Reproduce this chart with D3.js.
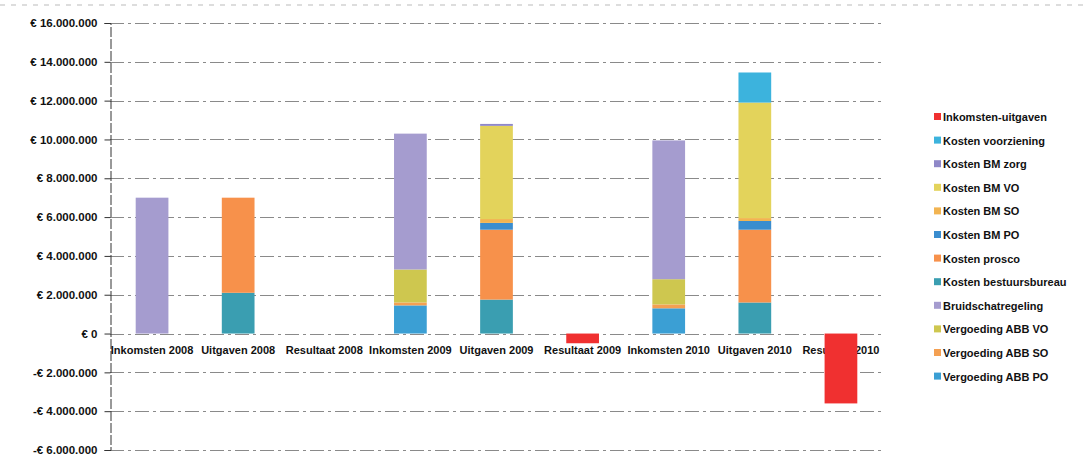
<!DOCTYPE html>
<html>
<head>
<meta charset="utf-8">
<script src="https://cdn.jsdelivr.net/npm/d3@7"></script>
<style>
  body { margin: 0; background: #fff; }
  svg text { font-family: "Liberation Sans", Arial, sans-serif; font-weight: bold; fill: #111; }
</style>
</head>
<body>
<svg></svg>
<script>
// Categories on the x axis
var categories = ["Inkomsten 2008", "Uitgaven 2008", "Resultaat 2008",
  "Inkomsten 2009", "Uitgaven 2009", "Resultaat 2009",
  "Inkomsten 2010", "Uitgaven 2010", "Resultaat 2010"];

// Series, bottom of the stack first
var seriesNames = ["Vergoeding ABB PO", "Vergoeding ABB SO", "Vergoeding ABB VO",
  "Bruidschatregeling", "Kosten bestuursbureau", "Kosten prosco", "Kosten BM PO",
  "Kosten BM SO", "Kosten BM VO", "Kosten BM zorg", "Kosten voorziening",
  "Inkomsten-uitgaven"];

var seriesColors = ["#3b9fd4", "#f4a052", "#cec74f", "#a59ccf", "#3a9eb1", "#f7914b",
  "#3a8dcf", "#f2b451", "#e3d35b", "#8f88c8", "#3cb3dd", "#f03030"];

// Values per series, one per category (euro)
var vergoedingPO   = [0, 0, 0, 1450000, 0, 0, 1300000, 0, 0];
var vergoedingSO   = [0, 0, 0, 150000, 0, 0, 200000, 0, 0];
var vergoedingVO   = [0, 0, 0, 1700000, 0, 0, 1300000, 0, 0];
var bruidschat     = [7000000, 0, 0, 7000000, 0, 0, 7150000, 0, 0];
var bestuursbureau = [0, 2100000, 0, 0, 1750000, 0, 0, 1600000, 0];
var prosco         = [0, 4900000, 0, 0, 3600000, 0, 0, 3750000, 0];
var bmPO           = [0, 0, 0, 0, 350000, 0, 0, 450000, 0];
var bmSO           = [0, 0, 0, 0, 200000, 0, 0, 150000, 0];
var bmVO           = [0, 0, 0, 0, 4800000, 0, 0, 5950000, 0];
var bmZorg         = [0, 0, 0, 0, 100000, 0, 0, 0, 0];
var voorziening    = [0, 0, 0, 0, 0, 0, 0, 1550000, 0];
var resultaat      = [0, 0, 0, 0, 0, -500000, 0, 0, -3600000];

var seriesValues = [vergoedingPO, vergoedingSO, vergoedingVO, bruidschat, bestuursbureau,
  prosco, bmPO, bmSO, bmVO, bmZorg, voorziening, resultaat];

var yTicks = [-6000000, -4000000, -2000000, 0, 2000000, 4000000, 6000000,
  8000000, 10000000, 12000000, 14000000, 16000000];

var width = 1084, height = 473;
var svg = d3.select("svg").attr("width", width).attr("height", height);

var x = d3.scaleBand()
  .domain(categories)
  .range([109, 884])
  .paddingInner(0.62)
  .paddingOuter(0.31);

var y = d3.scaleLinear()
  .domain([-6000000, 16000000])
  .range([450, 23]);

// Dutch euro format
function euro(v) {
  var s = d3.format(",")(Math.abs(v)).replace(/,/g, ".");
  return (v < 0 ? "-€ " : "€ ") + s;
}

// faint scan border at the top
svg.append("line")
  .attr("x1", 0).attr("x2", width)
  .attr("y1", 5).attr("y2", 5)
  .attr("stroke", "#bbb")
  .attr("stroke-dasharray", "5,6");

// Gridlines
svg.append("g")
  .selectAll("line")
  .data(yTicks)
  .enter()
  .append("line")
    .attr("x1", 110)
    .attr("x2", 884)
    .attr("y1", function(d) { return Math.round(y(d)) + 0.5; })
    .attr("y2", function(d) { return Math.round(y(d)) + 0.5; })
    .attr("stroke", "#8a8a8a")
    .attr("stroke-dasharray", "14,4,3,4");

// Y axis
var yAxis = d3.axisLeft(y)
  .tickValues(yTicks)
  .tickFormat(euro)
  .tickSize(6)
  .tickPadding(7);

var yg = svg.append("g")
  .attr("transform", "translate(110.5,0)")
  .call(yAxis);
yg.select(".domain").attr("stroke", "#333").attr("stroke-dasharray", "10,2");
yg.selectAll(".tick line").attr("stroke", "#333");
yg.selectAll("text")
  .style("font-size", "11.5px")
  .style("font-family", "'Liberation Sans', Arial, sans-serif")
  .style("font-weight", "bold")
  .attr("fill", "#111");

// Category labels just under the zero line (drawn behind the bars)
svg.append("g")
  .selectAll("text")
  .data(categories)
  .enter()
  .append("text")
    .attr("x", function(d) { return x(d) + x.bandwidth() / 2; })
    .attr("y", y(0) + 20)
    .attr("text-anchor", "middle")
    .style("font-size", "11px")
    .text(function(d) { return d; });

// Stacked bars
var rows = categories.map(function(c, i) {
  var row = {category: c};
  seriesNames.forEach(function(s, j) { row[s] = seriesValues[j][i]; });
  return row;
});

var stack = d3.stack()
  .keys(seriesNames)
  .offset(d3.stackOffsetDiverging);

var layers = stack(rows);

svg.append("g")
  .selectAll("g")
  .data(layers)
  .enter()
  .append("g")
    .attr("fill", function(d, i) { return seriesColors[i]; })
  .selectAll("rect")
  .data(function(d) { return d; })
  .enter()
  .append("rect")
    .attr("x", function(d) { return x(d.data.category); })
    .attr("width", x.bandwidth())
    .attr("y", function(d) { return y(d[1]); })
    .attr("height", function(d) { return y(d[0]) - y(d[1]); });

// Legend, top series first
var legendItems = seriesNames.map(function(s, i) { return {name: s, color: seriesColors[i]}; }).reverse();

var legend = svg.append("g")
  .selectAll("g")
  .data(legendItems)
  .enter()
  .append("g")
    .attr("transform", function(d, i) { return "translate(934," + (117 + i * 23.6) + ")"; });

legend.append("rect")
  .attr("x", 0)
  .attr("y", -4)
  .attr("width", 7)
  .attr("height", 7)
  .attr("fill", function(d) { return d.color; });

legend.append("text")
  .attr("x", 9)
  .attr("y", 4)
  .style("font-size", "11px")
  .text(function(d) { return d.name; });
</script>
</body>
</html>
